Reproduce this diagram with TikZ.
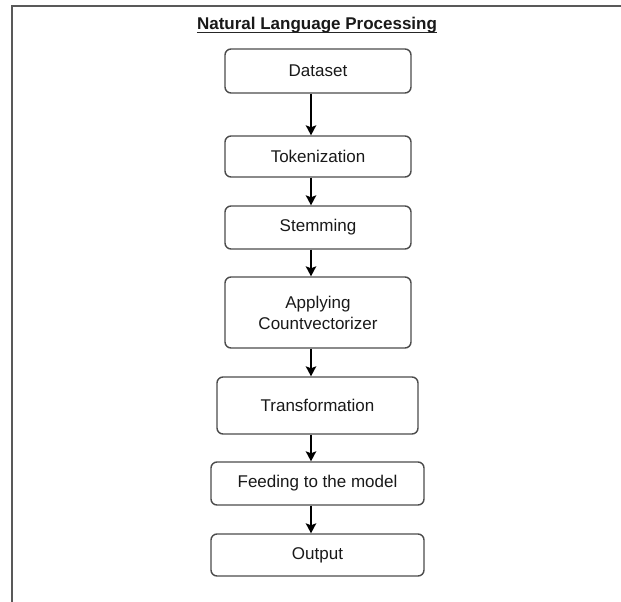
\documentclass[tikz,border=0pt]{standalone}
\usepackage{fontspec}
\setmainfont{Liberation Sans}
\usetikzlibrary{arrows.meta}
\begin{document}
\begin{tikzpicture}[x=1pt,y=-1pt,
  stepbox/.style={draw=black!70, line width=1.4pt, rounded corners=6pt, inner sep=0pt,
    minimum width=186pt, align=center, font=\fontsize{17}{21}\selectfont, text=black!90},
  arr/.style={draw=black, line width=1.4pt, -{Stealth[length=10pt,width=10.5pt,inset=2pt]}},
  frameline/.style={draw=black!65, line width=2pt}]
\useasboundingbox (0,0) rectangle (621,602);
\fill[white] (0,0) rectangle (621,602);
\draw[frameline] (621,6.5) -- (11.5,6.5) -- (11.5,602);
\node[anchor=base, inner sep=0pt, font=\bfseries\fontsize{17}{21}\selectfont, text=black!90] (title) at (317,30)
  {Natural Language Processing};
\draw[line width=1pt, black!85] ([yshift=-2.5pt]title.base west) -- ([yshift=-2.5pt]title.base east);
\node[stepbox, minimum height=44pt] (ds) at (318,71) {Dataset};
\node[stepbox, minimum height=41pt] (tok) at (318,156.5) {Tokenization};
\node[stepbox, minimum height=43pt] (stem) at (318,227.5) {Stemming};
\node[stepbox, minimum height=71pt] (cv) at (318,312.5) {Applying\\Countvectorizer};
\node[stepbox, minimum width=201pt, minimum height=57pt] (tr) at (317.5,405.5) {Transformation};
\node[stepbox, minimum width=213pt, minimum height=43pt] (feed) at (317.5,483.5) {Feeding to the model};
\node[stepbox, minimum width=213pt, minimum height=42pt] (out) at (317.5,555) {Output};
\coordinate (ax) at (311,0);
\draw[arr] (ds.south -| ax) -- (tok.north -| ax);
\draw[arr] (tok.south -| ax) -- (stem.north -| ax);
\draw[arr] (stem.south -| ax) -- (cv.north -| ax);
\draw[arr] (cv.south -| ax) -- (tr.north -| ax);
\draw[arr] (tr.south -| ax) -- (feed.north -| ax);
\draw[arr] (feed.south -| ax) -- (out.north -| ax);
\end{tikzpicture}
\end{document}
